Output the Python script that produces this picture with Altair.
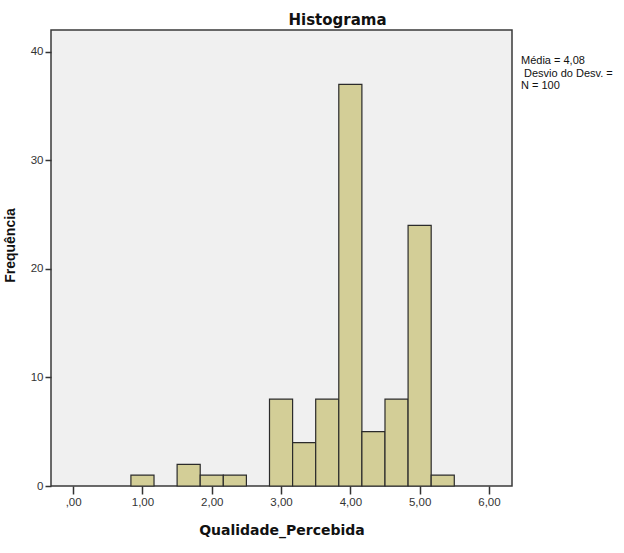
import altair as alt
import pandas as pd

# Histogram bins (width 1/3) and frequencies
bin_start = [0.8333, 1.5, 1.8333, 2.1667, 2.8333, 3.1667, 3.5, 3.8333, 4.1667, 4.5, 4.8333, 5.1667]
bin_end = [1.1667, 1.8333, 2.1667, 2.5, 3.1667, 3.5, 3.8333, 4.1667, 4.5, 4.8333, 5.1667, 5.5]
counts = [1, 2, 1, 1, 8, 4, 8, 37, 5, 8, 24, 1]

x_ticks = [0, 1, 2, 3, 4, 5, 6]
x_tick_labels = [",00", "1,00", "2,00", "3,00", "4,00", "5,00", "6,00"]
y_ticks = [0, 10, 20, 30, 40]

stats_lines = ["Média = 4,08", "Desvio do Desv. =", "N = 100"]
stats_indent = [0, 3, 0]

df = pd.DataFrame({"start": bin_start, "end": bin_end, "count": counts})

label_expr = " : ".join(
    f"datum.value == {v} ? '{l}'" for v, l in zip(x_ticks, x_tick_labels)
) + " : ''"

x_scale = alt.Scale(domain=[-0.32, 6.333], nice=False, zero=False)
y_scale = alt.Scale(domain=[0, 42], nice=False)

bars = alt.Chart(df).mark_rect(
    fill="#d3ce97", stroke="#2b2b2b", strokeWidth=1.2
).encode(
    x=alt.X("start:Q", scale=x_scale,
            axis=alt.Axis(values=x_ticks, labelExpr=label_expr, title="Qualidade_Percebida",
                          grid=False, tickSize=8, tickWidth=1.5, tickColor="#333",
                          domain=False, labelFont="Liberation Sans", labelFontSize=11.5,
                          labelColor="#333", labelPadding=2,
                          titleFont="DejaVu Sans", titleFontSize=14, titleFontWeight="bold",
                          titleColor="#111", titleY=48, titleBaseline="alphabetic")),
    x2="end:Q",
    y=alt.Y("count:Q", scale=y_scale,
            axis=alt.Axis(values=y_ticks, title="Frequência", grid=False, tickSize=6,
                          tickWidth=1.5, tickColor="#333", domain=False,
                          labelFont="Liberation Sans", labelFontSize=11.5, labelColor="#333",
                          labelPadding=2,
                          titleFont="Liberation Sans", titleFontSize=14, titleFontWeight="bold",
                          titleColor="#111", titleX=-41, titleY=215, titleAngle=270,
                          titleBaseline="middle", titleAlign="center")),
    y2=alt.datum(0),
)

layers = [bars]
for i, line in enumerate(stats_lines):
    layers.append(
        alt.Chart(pd.DataFrame({"t": [line]})).mark_text(
            font="Liberation Sans", fontSize=11, color="#111", align="left", baseline="middle"
        ).encode(text="t:N", x=alt.value(470 + stats_indent[i]), y=alt.value(31 + 12.5 * i))
    )

chart = alt.layer(*layers).properties(
    width=461,
    height=456,
    title=alt.TitleParams(text="Histograma", font="DejaVu Sans", fontSize=15,
                          fontWeight="bold", color="#111", anchor="middle", dx=56,
                          baseline="alphabetic", offset=-10),
    autosize=alt.AutoSizeParams(type="none"),
    padding={"left": 51, "top": 30, "right": 112, "bottom": 67},
    background="white",
).configure_view(
    fill="#f0f0f0", stroke="#3a3a3a", strokeWidth=1.5
)

chart.save("out.html", embed_options={"renderer": "svg", "actions": False})
